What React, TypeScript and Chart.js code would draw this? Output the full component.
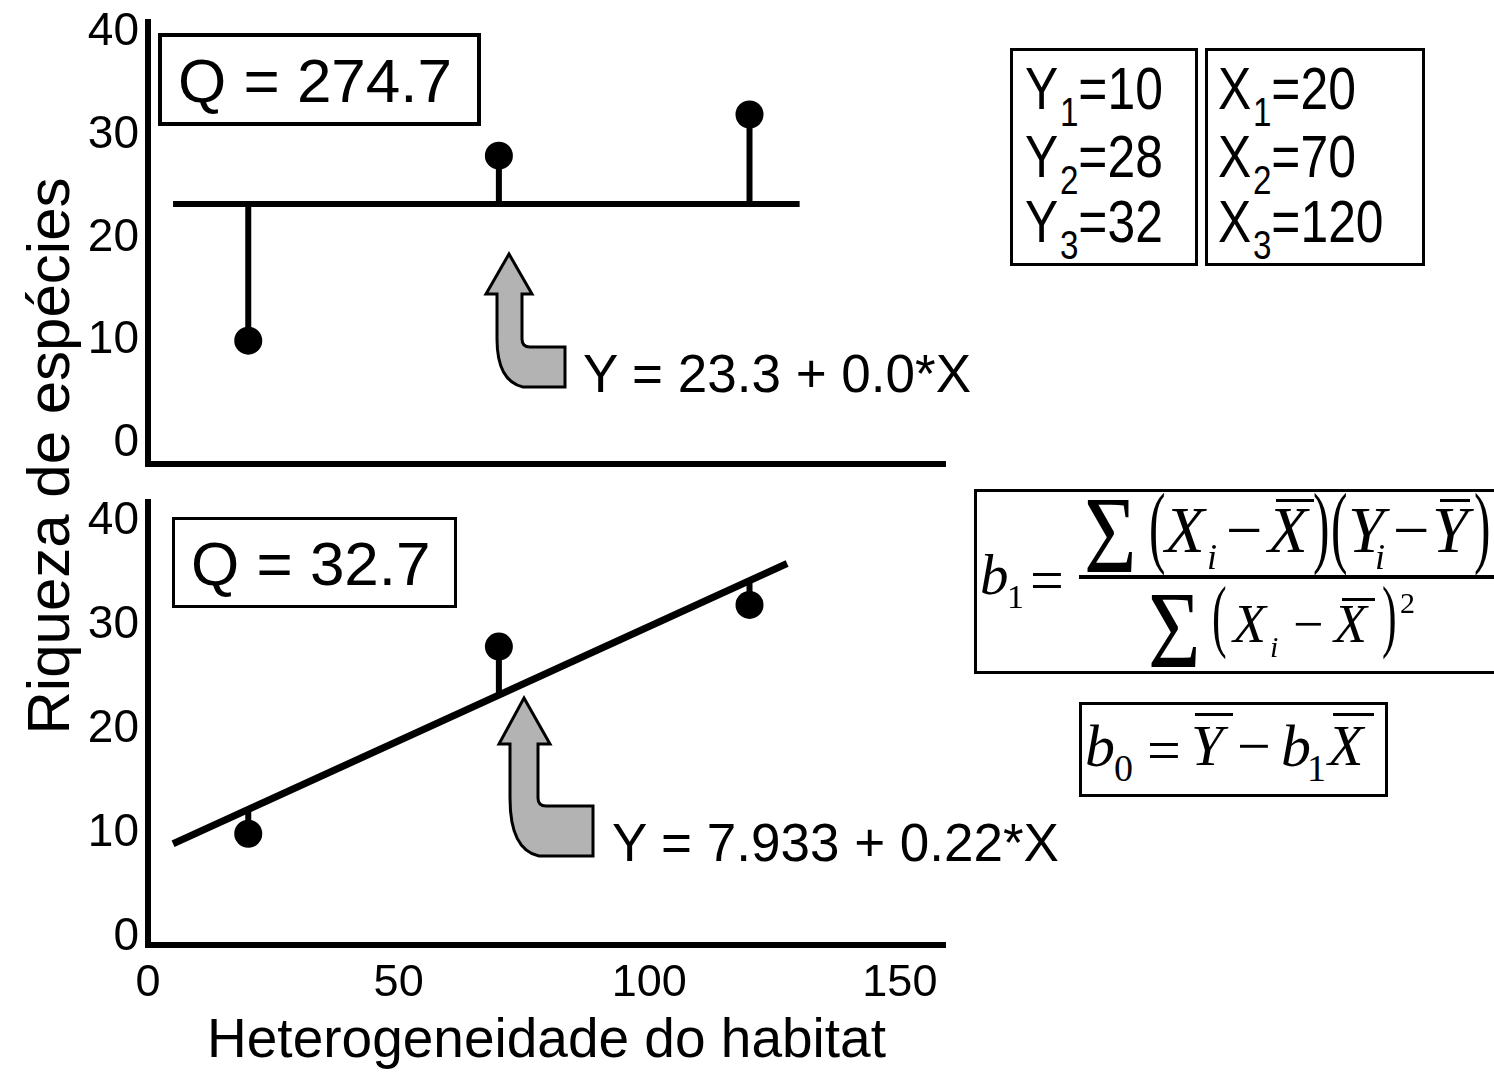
import React, { useEffect, useRef } from "react";
import { Chart, registerables } from "chart.js";

Chart.register(...registerables);

// Observations: habitat heterogeneity (X) and species richness (Y)
const xValues = [20, 70, 120];
const yValues = [10, 28, 32];

// Axis ticks
const xTickValues = [0, 50, 100, 150];
const yTickValues = [0, 10, 20, 30, 40];

// Fitted models as [intercept, slope] and the X range each drawn line covers
const meanModel = [23.3, 0.0];
const linearModel = [7.933, 0.22];
const meanModelSpan = [5, 130];
const linearModelSpan = [5, 127.5];

// Residual sums of squares and model equations printed in each panel
const qValues = ["274.7", "32.7"];
const equationLabels = ["Y = 23.3 + 0.0*X", "Y = 7.933 + 0.22*X"];

const SANS = "'Liberation Sans', Arial, sans-serif";
const SERIF = "'Liberation Serif', 'Times New Roman', serif";
const BLACK = "#000";

type Arrow = {
  tipX: number; tipY: number; headL: number; headR: number; headY: number;
  shaftL: number; shaftR: number; tailTop: number; tailBottom: number; tailRight: number;
};

// Grey bent arrow pointing up at the fitted line, plus a square axis corner
function annotate(arrow: Arrow) {
  return {
    id: "annotate",
    afterDraw(chart: any) {
      const { ctx, chartArea } = chart;
      ctx.save();
      ctx.fillStyle = BLACK;
      ctx.fillRect(chartArea.left - 3, chartArea.bottom - 3, 6, 6);
      const a = arrow;
      ctx.beginPath();
      ctx.moveTo(a.tipX, a.tipY);
      ctx.lineTo(a.headR, a.headY);
      ctx.lineTo(a.shaftR, a.headY);
      ctx.lineTo(a.shaftR, a.tailTop - 8);
      ctx.quadraticCurveTo(a.shaftR, a.tailTop, a.shaftR + 8, a.tailTop);
      ctx.lineTo(a.tailRight, a.tailTop);
      ctx.lineTo(a.tailRight, a.tailBottom);
      ctx.lineTo(a.shaftR + 1, a.tailBottom);
      ctx.quadraticCurveTo(a.shaftL, a.tailBottom - 6, a.shaftL, a.tailTop - 8);
      ctx.lineTo(a.shaftL, a.headY);
      ctx.lineTo(a.headL, a.headY);
      ctx.closePath();
      ctx.fillStyle = "#b3b3b3";
      ctx.fill();
      ctx.lineWidth = 3;
      ctx.lineJoin = "miter";
      ctx.strokeStyle = BLACK;
      ctx.stroke();
      ctx.restore();
    },
  };
}

const zeroPadding = (s: any) => {
  s.paddingLeft = 0;
  s.paddingRight = 0;
  s.paddingTop = 0;
  s.paddingBottom = 0;
};

type PanelSpec = {
  model: number[];
  span: number[];
  yMin: number;
  yMax: number;
  xAxisHeight: number;
  showXLabels: boolean;
  fitWidth: number;
  arrow: Arrow;
};

function panelConfig(p: PanelSpec): any {
  const fit = (x: number) => p.model[0] + p.model[1] * x;
  const stems = xValues.map((x, i) => ({
    data: [{ x, y: yValues[i] }, { x, y: fit(x) }],
    showLine: true,
    borderColor: BLACK,
    borderWidth: 6,
    pointRadius: 0,
    pointHoverRadius: 0,
  }));
  return {
    type: "scatter",
    data: {
      datasets: [
        {
          data: xValues.map((x, i) => ({ x, y: yValues[i] })),
          showLine: false,
          pointRadius: 14,
          pointHoverRadius: 14,
          pointBackgroundColor: BLACK,
          pointBorderColor: BLACK,
          pointBorderWidth: 0,
        },
        {
          data: p.span.map((x) => ({ x, y: fit(x) })),
          showLine: true,
          borderColor: BLACK,
          borderWidth: p.fitWidth,
          pointRadius: 0,
          pointHoverRadius: 0,
        },
        ...stems,
      ],
    },
    options: {
      animation: false,
      responsive: false,
      maintainAspectRatio: false,
      devicePixelRatio: 1,
      events: [],
      layout: { padding: { left: 0, top: 22, right: 35, bottom: 0 } },
      plugins: { legend: { display: false }, tooltip: { enabled: false } },
      scales: {
        x: {
          type: "linear",
          position: "bottom",
          min: 0,
          max: 159,
          grid: { display: false, drawTicks: false },
          border: { display: true, color: BLACK, width: 6 },
          ticks: {
            display: p.showXLabels,
            color: BLACK,
            padding: 12,
            maxRotation: 0,
            autoSkip: false,
            font: { family: SANS, size: 45 },
          },
          title: {
            display: p.showXLabels,
            text: "Heterogeneidade do habitat",
            color: BLACK,
            font: { family: SANS, size: 55, lineHeight: 1 },
            padding: { top: 0, bottom: 3 },
          },
          afterBuildTicks: (s: any) => {
            s.ticks = xTickValues.map((v) => ({ value: v }));
          },
          afterFit: (s: any) => {
            s.height = p.xAxisHeight;
            zeroPadding(s);
          },
        },
        y: {
          type: "linear",
          position: "left",
          min: p.yMin,
          max: p.yMax,
          grid: { display: false, drawTicks: false },
          border: { display: true, color: BLACK, width: 6 },
          ticks: {
            color: BLACK,
            padding: 9,
            autoSkip: false,
            font: { family: SANS, size: 46 },
          },
          afterBuildTicks: (s: any) => {
            s.ticks = yTickValues.map((v) => ({ value: v }));
          },
          afterFit: (s: any) => {
            s.width = 148;
            zeroPadding(s);
          },
        },
      },
    },
    plugins: [annotate(p.arrow)],
  };
}

function Panel({ top, height, spec }: { top: number; height: number; spec: PanelSpec }) {
  const ref = useRef<HTMLCanvasElement>(null);
  useEffect(() => {
    const chart = new Chart(ref.current as HTMLCanvasElement, panelConfig(spec));
    return () => chart.destroy();
  }, []);
  return (
    <canvas
      ref={ref}
      width={980}
      height={height}
      style={{ position: "absolute", left: 0, top, width: 980, height }}
    />
  );
}

type TxtProps = {
  x: number; base: number; size: number; serif?: boolean; italic?: boolean; sx?: number;
  children: React.ReactNode;
};

// Text placed by its baseline
function Txt({ x, base, size, serif, italic, sx, children }: TxtProps) {
  const asc = serif ? 0.8375 : 0.8465;
  return (
    <span
      style={{
        position: "absolute",
        left: x,
        top: base - asc * size,
        fontFamily: serif ? SERIF : SANS,
        fontSize: size,
        lineHeight: `${size}px`,
        fontStyle: italic ? "italic" : "normal",
        whiteSpace: "nowrap",
        color: BLACK,
        transform: sx ? `scaleX(${sx})` : undefined,
        transformOrigin: "0 0",
      }}
    >
      {children}
    </span>
  );
}

function Frame({ x, y, w, h, bw }: { x: number; y: number; w: number; h: number; bw: number }) {
  return (
    <div
      style={{
        position: "absolute", left: x, top: y, width: w, height: h,
        border: `${bw}px solid ${BLACK}`, boxSizing: "border-box",
      }}
    />
  );
}

function Rule({ x, y, w, h }: { x: number; y: number; w: number; h: number }) {
  return <div style={{ position: "absolute", left: x, top: y, width: w, height: h, background: BLACK }} />;
}

function Sub({ children, size, shift }: { children: React.ReactNode; size: number; shift: number }) {
  return <span style={{ fontSize: size, verticalAlign: -shift, marginLeft: 2, color: BLACK }}>{children}</span>;
}

const topSpec: PanelSpec = {
  model: meanModel,
  span: meanModelSpan,
  yMin: -2,
  yMax: 41,
  xAxisHeight: 16,
  showXLabels: false,
  fitWidth: 6,
  arrow: { tipX: 509, tipY: 254, headL: 486, headR: 532, headY: 294, shaftL: 497, shaftR: 522, tailTop: 347, tailBottom: 387, tailRight: 565 },
};

const bottomSpec: PanelSpec = {
  model: linearModel,
  span: linearModelSpan,
  yMin: -0.7,
  yMax: 41.9,
  xAxisHeight: 127,
  showXLabels: true,
  fitWidth: 7,
  arrow: { tipX: 524, tipY: 218, headL: 499, headR: 550, headY: 264, shaftL: 510, shaftR: 538, tailTop: 326, tailBottom: 376, tailRight: 593 },
};

export default function App() {
  const dataLines = [110, 178, 243];
  return (
    <div
      style={{
        position: "absolute", left: 0, top: 0, width: 1494, height: 1072,
        background: "#fff", overflow: "hidden", fontFamily: SANS,
      }}
    >
      <Panel top={0} height={480} spec={topSpec} />
      <Panel top={480} height={592} spec={bottomSpec} />

      {/* shared y-axis title */}
      <div
        style={{
          position: "absolute", left: -251, top: 426, width: 600, height: 60,
          fontFamily: SANS, fontSize: 60, lineHeight: "60px", textAlign: "center",
          whiteSpace: "nowrap", transform: "rotate(-90deg)", color: BLACK,
        }}
      >
        Riqueza de espécies
      </div>

      {/* residual sums of squares */}
      <Frame x={158} y={33} w={323} h={93} bw={4} />
      <Txt x={178} base={102} size={62}>{`Q = ${qValues[0]}`}</Txt>
      <Frame x={172} y={517} w={285} h={91} bw={3} />
      <Txt x={191} base={585} size={62}>{`Q = ${qValues[1]}`}</Txt>

      {/* model equations */}
      <Txt x={583} base={392} size={53}>{equationLabels[0]}</Txt>
      <Txt x={612} base={861} size={53}>{equationLabels[1]}</Txt>

      {/* observed values */}
      <Frame x={1010} y={48} w={188} h={218} bw={3} />
      <Frame x={1205} y={48} w={220} h={218} bw={3} />
      {yValues.map((v, i) => (
        <Txt key={`y${i}`} x={1025} base={dataLines[i]} size={60} sx={0.83}>
          Y<Sub size={40} shift={17}>{i + 1}</Sub>={v}
        </Txt>
      ))}
      {xValues.map((v, i) => (
        <Txt key={`x${i}`} x={1218} base={dataLines[i]} size={60} sx={0.83}>
          X<Sub size={40} shift={17}>{i + 1}</Sub>={v}
        </Txt>
      ))}

      {/* slope estimator */}
      <Frame x={974} y={489} w={540} h={185} bw={3} />
      <Txt x={980} base={594} size={57} serif italic>b</Txt>
      <Txt x={1007} base={608} size={34} serif>1</Txt>
      <Txt x={1030} base={600} size={60} serif>=</Txt>
      <Rule x={1079} y={575} w={430} h={4} />

      <Txt x={1084} base={572} size={110} serif sx={0.82}>Σ</Txt>
      <Txt x={1149} base={556} size={90} serif sx={0.55}>(</Txt>
      <Txt x={1165} base={552} size={65} serif italic>X</Txt>
      <Txt x={1207} base={569} size={36} serif italic>i</Txt>
      <Txt x={1226} base={552} size={65} serif>−</Txt>
      <Txt x={1268} base={552} size={65} serif italic>X</Txt>
      <Rule x={1276} y={499} w={38} h={3} />
      <Txt x={1313} base={556} size={90} serif sx={0.55}>)</Txt>
      <Txt x={1331} base={556} size={90} serif sx={0.55}>(</Txt>
      <Txt x={1348} base={552} size={65} serif italic>Y</Txt>
      <Txt x={1375} base={569} size={36} serif italic>i</Txt>
      <Txt x={1393} base={552} size={65} serif>−</Txt>
      <Txt x={1432} base={552} size={65} serif italic>Y</Txt>
      <Rule x={1440} y={499} w={30} h={3} />
      <Txt x={1474} base={556} size={90} serif sx={0.55}>)</Txt>

      <Txt x={1148} base={667} size={110} serif sx={0.82}>Σ</Txt>
      <Txt x={1212} base={642} size={80} serif sx={0.55}>(</Txt>
      <Txt x={1233} base={642} size={54} serif italic>X</Txt>
      <Txt x={1270} base={657} size={30} serif italic>i</Txt>
      <Txt x={1293} base={642} size={54} serif>−</Txt>
      <Txt x={1334} base={642} size={54} serif italic>X</Txt>
      <Rule x={1342} y={598} w={33} h={3} />
      <Txt x={1382} base={642} size={80} serif sx={0.55}>)</Txt>
      <Txt x={1400} base={613} size={30} serif>2</Txt>

      {/* intercept estimator */}
      <Frame x={1079} y={702} w={309} h={95} bw={3} />
      <Txt x={1085} base={766} size={60} serif italic>b</Txt>
      <Txt x={1114} base={781} size={38} serif>0</Txt>
      <Txt x={1147} base={770} size={60} serif>=</Txt>
      <Txt x={1191} base={766} size={58} serif italic>Y</Txt>
      <Rule x={1195} y={713} w={38} h={3} />
      <Txt x={1237} base={766} size={60} serif>−</Txt>
      <Txt x={1281} base={766} size={60} serif italic>b</Txt>
      <Txt x={1307} base={781} size={38} serif>1</Txt>
      <Txt x={1328} base={766} size={58} serif italic>X</Txt>
      <Rule x={1333} y={713} w={41} h={3} />
    </div>
  );
}
